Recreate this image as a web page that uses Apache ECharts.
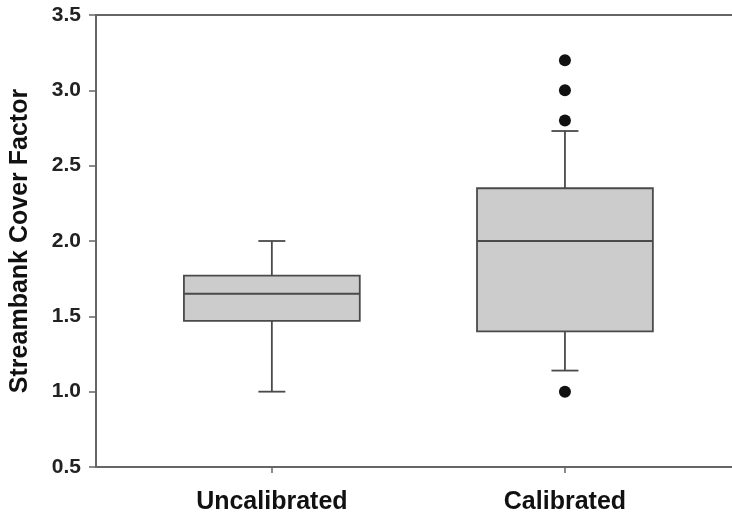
<!DOCTYPE html>
<html>
<head>
<meta charset="utf-8">
<script src="https://cdn.jsdelivr.net/npm/echarts@6/dist/echarts.min.js"></script>
<style>
  html, body { margin: 0; padding: 0; background: #ffffff; }
  #chart { width: 732px; height: 516px; }
</style>
</head>
<body>
<div id="chart"></div>
<script>
// Groups along the horizontal axis and their positions
const categories = ['Uncalibrated', 'Calibrated'];
const positions = [1, 2];

// Box statistics per group: [lower whisker, Q1, median, Q3, upper whisker]
const boxStats = [
  [1.00, 1.47, 1.65, 1.77, 2.00],
  [1.14, 1.40, 2.00, 2.35, 2.73]
];

// Outlying points: [group position, value]
const outliers = [
  [2, 3.20],
  [2, 3.00],
  [2, 2.80],
  [2, 1.00]
];

// Y axis ticks
const yMin = 0.5, yMax = 3.5, yStep = 0.5;

const FONT = '"Liberation Sans", Arial, sans-serif';
const LINE = '#4a4a4a';
const AXIS = '#666666';

const boxData = boxStats.map((s, i) => [positions[i]].concat(s));

function renderBox(params, api) {
  const x = api.value(0);
  const lo = api.coord([x, api.value(1)]);
  const q1 = api.coord([x, api.value(2)]);
  const md = api.coord([x, api.value(3)]);
  const q3 = api.coord([x, api.value(4)]);
  const hi = api.coord([x, api.value(5)]);
  const left = api.coord([x - 0.3, 0])[0];
  const right = api.coord([x + 0.3, 0])[0];
  const capL = api.coord([x - 0.046, 0])[0];
  const capR = api.coord([x + 0.046, 0])[0];
  const cx = lo[0];
  const stroke = { stroke: LINE, lineWidth: 1.8 };
  return {
    type: 'group',
    children: [
      { type: 'line', shape: { x1: cx, y1: q3[1], x2: cx, y2: hi[1] }, style: stroke },
      { type: 'line', shape: { x1: capL, y1: hi[1], x2: capR, y2: hi[1] }, style: stroke },
      { type: 'line', shape: { x1: cx, y1: q1[1], x2: cx, y2: lo[1] }, style: stroke },
      { type: 'line', shape: { x1: capL, y1: lo[1], x2: capR, y2: lo[1] }, style: stroke },
      { type: 'rect', shape: { x: left, y: q3[1], width: right - left, height: q1[1] - q3[1] },
        style: { fill: '#cccccc', stroke: LINE, lineWidth: 1.8 } },
      { type: 'line', shape: { x1: left, y1: md[1], x2: right, y2: md[1] }, style: stroke }
    ]
  };
}

const chart = echarts.init(document.getElementById('chart'), null, { renderer: 'canvas' });

chart.setOption({
  backgroundColor: '#ffffff',
  animation: false,
  grid: { left: 96, right: 0, top: 15, bottom: 49, containLabel: false, outerBoundsMode: 'none' },
  xAxis: [
    {
      type: 'value',
      min: 0.4,
      max: 2.57,
      splitLine: { show: false },
      axisLine: { show: true, lineStyle: { color: AXIS, width: 2 } },
      axisTick: {
        show: true, inside: false, length: 6,
        customValues: positions,
        lineStyle: { color: AXIS, width: 1.5 }
      },
      axisLabel: {
        customValues: positions,
        formatter: v => categories[positions.indexOf(v)] || '',
        margin: 23,
        fontFamily: FONT, fontWeight: 'bold', fontSize: 25, color: '#111111'
      }
    },
    {
      type: 'value',
      position: 'top',
      min: 0.4,
      max: 2.57,
      splitLine: { show: false },
      axisLine: { show: true, lineStyle: { color: AXIS, width: 2 } },
      axisTick: { show: false },
      axisLabel: { show: false }
    }
  ],
  yAxis: {
    type: 'value',
    min: yMin,
    max: yMax,
    interval: yStep,
    name: 'Streambank Cover Factor',
    nameLocation: 'middle',
    nameGap: 63,
    nameTextStyle: { fontFamily: FONT, fontWeight: 'bold', fontSize: 25, color: '#111111' },
    splitLine: { show: false },
    axisLine: { show: true, lineStyle: { color: AXIS, width: 2 } },
    axisTick: { show: true, inside: false, length: 7, lineStyle: { color: AXIS, width: 1.5 } },
    axisLabel: {
      margin: 15,
      formatter: v => v.toFixed(1),
      fontFamily: FONT, fontWeight: 'bold', fontSize: 21, color: '#222222'
    }
  },
  series: [
    {
      type: 'custom',
      xAxisIndex: 0,
      renderItem: renderBox,
      data: boxData,
      encode: { x: 0, y: [1, 2, 3, 4, 5] },
      z: 2
    },
    {
      type: 'scatter',
      xAxisIndex: 0,
      data: outliers,
      symbol: 'circle',
      symbolSize: 12,
      itemStyle: { color: '#111111', opacity: 1 },
      z: 3
    }
  ]
});
</script>
</body>
</html>
